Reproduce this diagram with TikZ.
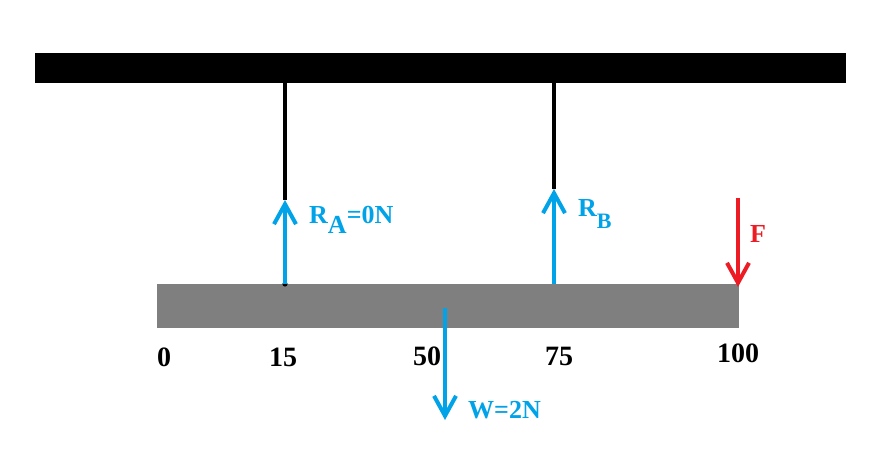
\documentclass[tikz,border=0pt]{standalone}
\usepackage{fontspec}
\setmainfont{Liberation Serif}
\usetikzlibrary{arrows.meta}
\definecolor{pblue}{RGB}{0,162,232}
\definecolor{pred}{RGB}{237,28,36}
\definecolor{pgray}{RGB}{127,127,127}
\begin{document}
\begin{tikzpicture}[x=1pt,y=-1pt,
  force/.style={line width=4pt,-{Straight Barb[length=20pt,width=22pt,line width=4pt]}},
  string/.style={line width=4pt,black},
  lab/.style={font=\fontsize{26}{28}\selectfont\bfseries,inner sep=0pt,anchor=base west},
  num/.style={font=\fontsize{28}{30}\selectfont\bfseries,inner sep=0pt,anchor=base,text=black}]
\useasboundingbox (0,0) rectangle (879,468);
% ceiling and beam
\node[fill=black,minimum width=811pt,minimum height=30pt,inner sep=0pt,outer sep=0pt,anchor=north west] (ceiling) at (35,53) {};
\node[fill=pgray,minimum width=582pt,minimum height=44pt,inner sep=0pt,outer sep=0pt,anchor=north west] (beam) at (157,284) {};
% points
\coordinate (topA) at (285,83);
\coordinate (tipA) at (285,200);
\coordinate (botA) at (285,284);
\coordinate (topB) at (554,83);
\coordinate (tipB) at (554,189);
\coordinate (botB) at (554,284);
\coordinate (startF) at (738,198);
\coordinate (tipF) at (738,287);
\coordinate (startW) at (445,308);
\coordinate (tipW) at (445,420);
% strings
\draw[string] (topA) -- (tipA);
\draw[string] (topB) -- (tipB);
% forces
\fill[black] (botA) circle[radius=2.6pt];
\draw[force,pblue] (botA) -- (tipA);
\draw[force,pblue] (botB) -- (tipB);
\draw[force,pred] (startF) -- (tipF);
\draw[force,pblue] (startW) -- (tipW);
% labels
\node[lab,text=pblue] (labA) at (309,223) {R\raisebox{-10pt}{A}=0N};
\node[lab,text=pblue] (labB) at (578,217) {R\raisebox{-12pt}{\fontsize{22}{24}\selectfont B}};
\node[lab,text=pred] (labF) at (750,242) {F};
\node[lab,text=pblue] (labW) at (468,418) {W=2N};
% scale numbers
\node[num] (n0) at (164,366) {0};
\node[num] (n15) at (283,366) {15};
\node[num] (n50) at (427,365) {50};
\node[num] (n75) at (559,365) {75};
\node[num] (n100) at (738,362) {100};
\end{tikzpicture}
\end{document}
